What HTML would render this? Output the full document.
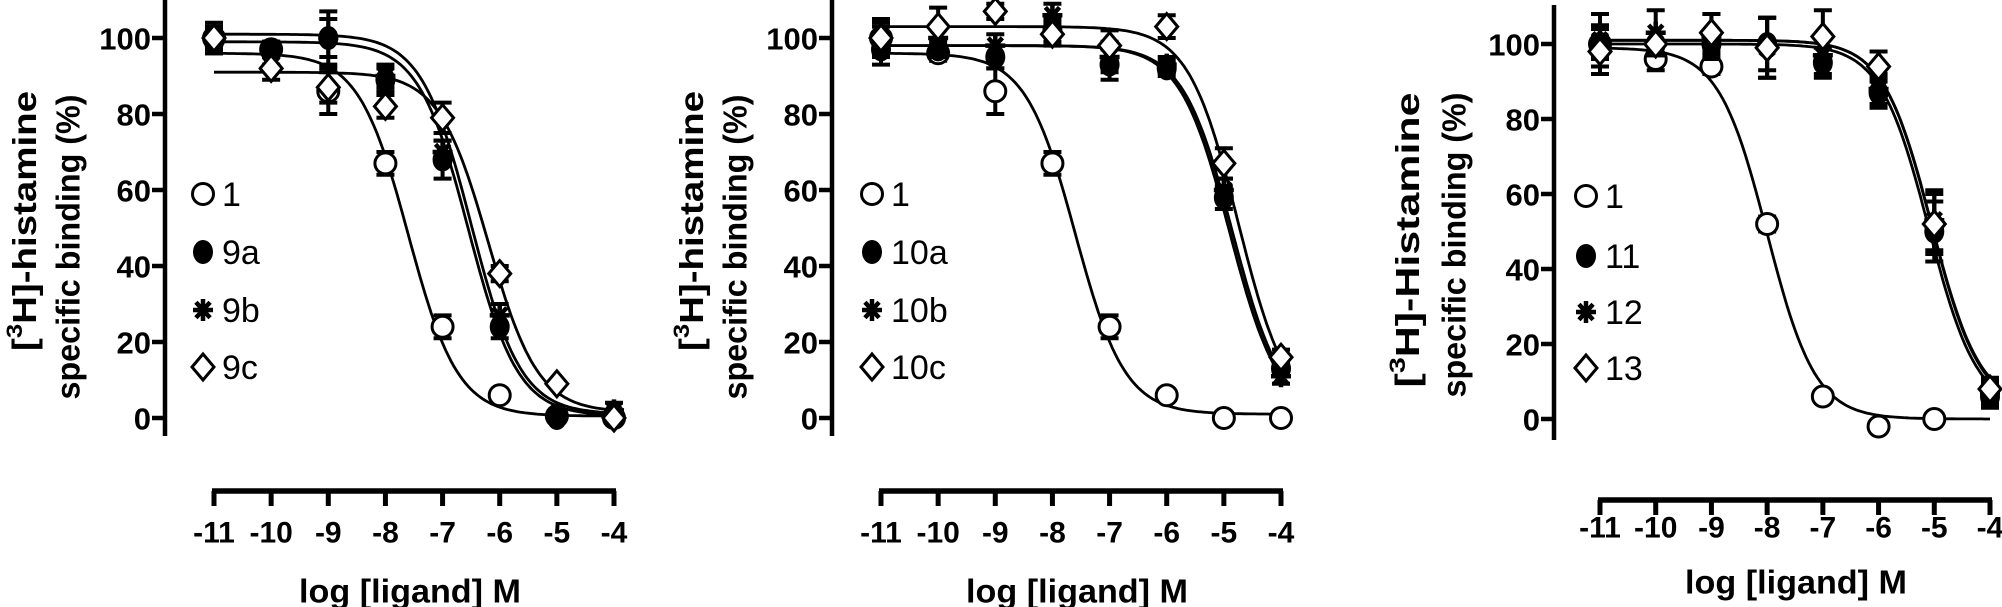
<!DOCTYPE html>
<html><head><meta charset="utf-8">
<style>
html,body{margin:0;padding:0;background:#fff;}
svg{display:block;}
text{font-family:"Liberation Sans",Arial,sans-serif;font-weight:bold;fill:#000;}
</style></head>
<body>
<svg id="chart" width="2002" height="607" viewBox="0 0 2002 607" xmlns="http://www.w3.org/2000/svg"></svg>
<script>
// ---------- data ----------
const logConc = [-11, -10, -9, -8, -7, -6, -5, -4];
const xTicks = [-11, -10, -9, -8, -7, -6, -5, -4];
const yTicks = [0, 20, 40, 60, 80, 100];

// Panel A
const aLabels = ["1", "9a", "9b", "9c"];
const a1 = [100, 97, 86, 67, 24, 6, 0.5, 0];
const a9a = [99, 97, 100, 89, 68, 24, 0, 1];
const a9b = [99, 96, 100, 90, 70, 27, 1, 2];
const a9c = [100, 92, 87, 82, 79, 38, 9, 0];
const aErr1 = [4, 2, 6, 3, 3, 1, 1, 1];
const aErr2 = [3, 2, 5, 3, 5, 3, 1, 1];
const aErr3 = [3, 3, 7, 3, 3, 3, 1, 2];
const aErr4 = [3, 3, 4, 3, 4, 2, 1, 1];
const aTop = [96, 99, 101, 91];
const aBottom = [0.5, 0.5, 1, 1.5];
const aLogIC50 = [-7.6, -6.55, -6.5, -6.2];

// Panel B
const bLabels = ["1", "10a", "10b", "10c"];
const b1 = [100, 96, 86, 67, 24, 6, 0, 0];
const b10a = [97, 97, 95, 102, 93, 92, 58, 13];
const b10b = [99, 100, 98, 106, 95, 93, 60, 11];
const b10c = [100, 103, 107, 101, 98, 103, 67, 16];
const bErr1 = [5, 2, 6, 3, 3, 1, 1, 1];
const bErr2 = [4, 2, 3, 3, 4, 2, 3, 2];
const bErr3 = [4, 3, 3, 3, 4, 2, 3, 2];
const bErr4 = [4, 5, 2, 3, 4, 3, 4, 2];
const bTop = [96, 98, 98, 103];
const bBottom = [1, 0, 0, 0];
const bLogIC50 = [-7.6, -4.9, -4.85, -4.75];

// Panel C
const cLabels = ["1", "11", "12", "13"];
const c1 = [100, 96, 94, 52, null, null, null, null];
const c1b = [null, null, null, null, 6, -2, 0, null];
const c11 = [100, 100, 100, 100, 95, 87, 50, 6];
const c12 = [101, 103, 102, 99, 97, 88, 53, 7];
const c13 = [98, 100, 103, 99, 102, 94, 52, 8];
const cErr1 = [8, 3, 2, 2, 1, 1, 1, 0];
const cErr2 = [4, 3, 3, 7, 4, 4, 8, 3];
const cErr3 = [4, 6, 6, 8, 5, 4, 8, 3];
const cErr4 = [4, 3, 5, 8, 7, 4, 8, 3];
const cTop = [99, 100, 101, 101];
const cBottom = [0, 2, 2.5, 3];
const cLogIC50 = [-8.0, -5.1, -5.05, -5.05];

// ---------- drawing ----------
const NS = "http://www.w3.org/2000/svg";
const svg = document.getElementById("chart");
function mk(tag, attrs, parent){
  const e = document.createElementNS(NS, tag);
  for (const k in attrs) e.setAttribute(k, attrs[k]);
  (parent || svg).appendChild(e);
  return e;
}

function drawMarker(g, shape, cx, cy){
  let m;
  if (shape === "circle") {
    m = mk("circle", {cx: cx, cy: cy, r: 10.5, fill: "#fff", stroke: "#000", "stroke-width": 3}, g);
  } else if (shape === "dot") {
    m = mk("ellipse", {cx: cx, cy: cy, rx: 10, ry: 12, fill: "#000"}, g);
  } else if (shape === "star") {
    let d = "";
    for (let i = 0; i < 4; i++) {
      const a = i * Math.PI / 4;
      d += `M${cx - 10 * Math.cos(a)},${cy - 11 * Math.sin(a)}L${cx + 10 * Math.cos(a)},${cy + 11 * Math.sin(a)}`;
    }
    m = mk("path", {d: d, stroke: "#000", "stroke-width": 4.5, fill: "none"}, g);
  } else {
    m = mk("path", {d: `M${cx},${cy - 13}L${cx + 11},${cy}L${cx},${cy + 13}L${cx - 11},${cy}Z`, fill: "#fff", stroke: "#000", "stroke-width": 3}, g);
  }
  return m;
}

function drawPanel(p){
  const g = mk("g", {});
  
  
  const X = v => p.x0 + (v - (-11)) / 7 * (p.x1 - p.x0);
  const Y = v => p.y0 + (v / 100) * (p.y100 - p.y0);

  const ya = mk("line", {x1: p.yx, y1: p.yTop, x2: p.yx, y2: p.yBot, stroke: "#000", "stroke-width": 4.5}, g);
  
  
  yTicks.forEach(t => {
    const tk = mk("line", {x1: p.yx - 13, y1: Y(t), x2: p.yx, y2: Y(t), stroke: "#000", "stroke-width": 4.5}, g);
    
    
    const tl = mk("text", {x: p.yx - 14, y: Y(t) + 1, "font-size": 31, "text-anchor": "end", "dominant-baseline": "central"}, g);
    tl.textContent = t;
    
    
  });
  const xa = mk("line", {x1: X(-11) - 2, y1: p.xAxisY, x2: X(-4) + 2, y2: p.xAxisY, stroke: "#000", "stroke-width": 5.5}, g);
  
  
  xTicks.forEach(t => {
    const tk = mk("line", {x1: X(t), y1: p.xAxisY, x2: X(t), y2: p.xAxisY + 15, stroke: "#000", "stroke-width": 5}, g);
    
    
    const tl = mk("text", {x: X(t), y: p.xLabY, "font-size": 30, "text-anchor": "middle", "dominant-baseline": "central"}, g);
    tl.textContent = t;
    
    
  });
  const xt = mk("text", {x: p.xTitleX, y: p.xTitleY, "font-size": 33, "text-anchor": "middle", "dominant-baseline": "central", textLength: 222, lengthAdjust: "spacingAndGlyphs"}, g);
  xt.textContent = "log [ligand] M";
  
  

  const yt1 = mk("text", {transform: `translate(${p.t1x},${p.t1y}) rotate(-90)`, "font-size": 33, "text-anchor": "middle", "dominant-baseline": "central", textLength: p.t1len, lengthAdjust: "spacingAndGlyphs"}, g);
  yt1.innerHTML = '[<tspan dy="-10" font-size="22">3</tspan><tspan dy="10">H]-' + p.hist + '</tspan>';
  
  
  const yt2 = mk("text", {transform: `translate(${p.t2x},${p.t2y}) rotate(-90)`, "font-size": 33, "text-anchor": "middle", "dominant-baseline": "central", textLength: 305, lengthAdjust: "spacingAndGlyphs"}, g);
  yt2.textContent = "specific binding (%)";
  
  

  p.series.forEach((s, i) => {
    let d = "";
    for (let k = 0; k <= 140; k++) {
      const lx = -11 + k * 7 / 140;
      const v = p.bottom[i] + (p.top[i] - p.bottom[i]) / (1 + Math.pow(10, lx - p.ic50[i]));
      d += (k ? "L" : "M") + X(lx).toFixed(1) + "," + Y(v).toFixed(1);
    }
    const c = mk("path", {d: d, fill: "none", stroke: "#000", "stroke-width": 2.8}, g);
    
    
  });
  const shapes = ["circle", "dot", "star", "diamond"];
  p.series.forEach((s, i) => {
    const arrs = Array.isArray(s[0]) ? s : [s];
    arrs.forEach(vals => {
      vals.forEach((v, j) => {
        if (v === null) return;
        const e = p.err[i][j];
        const cx = X(logConc[j]);
        if (e > 1.5) {
          const eb = mk("path", {d: `M${cx},${Y(v - e)}L${cx},${Y(v + e)}M${cx - 9},${Y(v + e)}L${cx + 9},${Y(v + e)}M${cx - 9},${Y(v - e)}L${cx + 9},${Y(v - e)}`, stroke: "#000", "stroke-width": 4, fill: "none"}, g);
          
          
        }
        const m = drawMarker(g, shapes[i], cx, Y(v));
        
        
      });
    });
  });
  p.labels.forEach((l, i) => {
    const ly = p.legY[i];
    const m = drawMarker(g, shapes[i], p.legX, ly);
    
    
    const t = mk("text", {x: p.legX + 19, y: ly + 1, "font-size": 34, "dominant-baseline": "central", style: "font-weight:normal"}, g);
    t.textContent = l;
    
    
  });
}

drawPanel({name: "panel-9-series", x0: 214, x1: 614, y0: 418, y100: 38, yx: 165, yTop: 0, yBot: 436,
  xAxisY: 491, xLabY: 533, xTitleX: 410, xTitleY: 591,
  t1x: 24, t1y: 221, t1len: 260, t2x: 68, t2y: 247, hist: "histamine",
  series: [a1, a9a, a9b, a9c], err: [aErr1, aErr2, aErr3, aErr4],
  top: aTop, bottom: aBottom, ic50: aLogIC50, labels: aLabels,
  legX: 203, legY: [194, 252, 310, 367]});

drawPanel({name: "panel-10-series", x0: 881, x1: 1281, y0: 418, y100: 38, yx: 832, yTop: 0, yBot: 436,
  xAxisY: 491, xLabY: 533, xTitleX: 1077, xTitleY: 591,
  t1x: 691, t1y: 221, t1len: 260, t2x: 735, t2y: 247, hist: "histamine",
  series: [b1, b10a, b10b, b10c], err: [bErr1, bErr2, bErr3, bErr4],
  top: bTop, bottom: bBottom, ic50: bLogIC50, labels: bLabels,
  legX: 872, legY: [194, 252, 310, 367]});

drawPanel({name: "panel-11-13-series", x0: 1600, x1: 1990, y0: 419, y100: 44, yx: 1554, yTop: 5, yBot: 440,
  xAxisY: 500, xLabY: 528, xTitleX: 1796, xTitleY: 582,
  t1x: 1407, t1y: 240, t1len: 295, t2x: 1454, t2y: 245, hist: "Histamine",
  series: [[c1, c1b], c11, c12, c13], err: [cErr1, cErr2, cErr3, cErr4],
  top: cTop, bottom: cBottom, ic50: cLogIC50, labels: cLabels,
  legX: 1586, legY: [196, 256, 312, 368]});
</script>
</body></html>
